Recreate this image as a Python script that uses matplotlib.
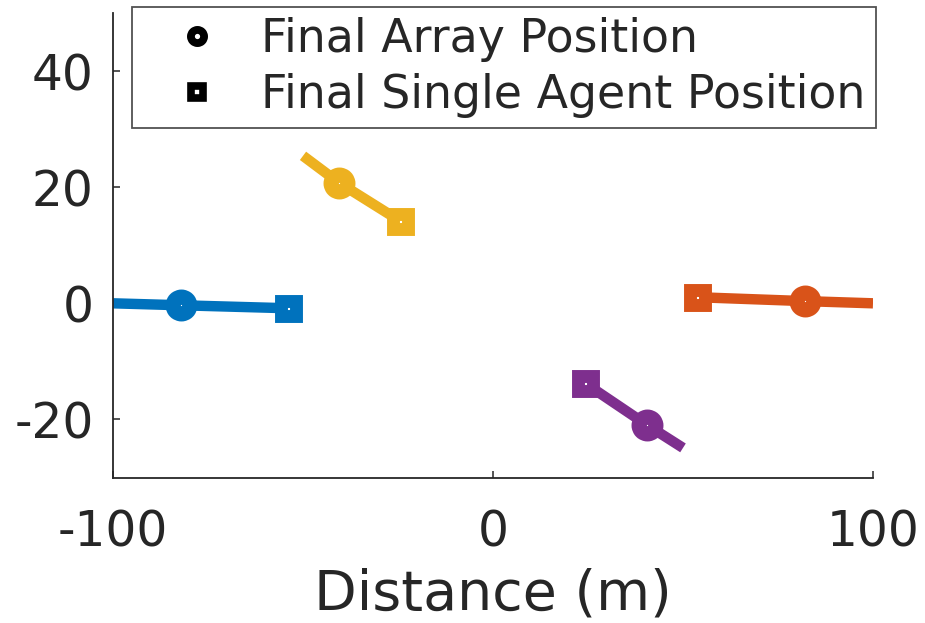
import matplotlib
matplotlib.use("Agg")
import matplotlib.pyplot as plt
from matplotlib.lines import Line2D
from matplotlib.markers import MarkerStyle

# Data: each agent's trajectory end segment, final array position (circle), final single-agent position (square)
colors = ["#0072BD", "#D95319", "#EDB120", "#7E2F8E"]
start_x = [-100.0, 100.0, -50.0, 50.0]
start_y = [0.0, 0.0, 25.4, -24.9]
array_x = [-82.0, 82.0, -40.6, 40.4]
array_y = [-0.34, 0.38, 20.8, -20.9]
single_x = [-54.0, 53.8, -24.5, 24.3]
single_y = [-0.85, 1.05, 14.2, -13.8]

xticks = [-100, 0, 100]
yticks = [-20, 0, 20, 40]
legend_labels = ["Final Array Position", "Final Single Agent Position"]
xlabel = "Distance (m)"

plt.rcParams["font.family"] = ["DejaVu Sans"]
txt = "#262626"

fig = plt.figure(figsize=(9.25, 6.23), dpi=100)
ax = fig.add_axes([113 / 925, 1 - 477.5 / 623, 760 / 925, 464.5 / 623])

sq = MarkerStyle("s", joinstyle="miter")
for c, sx, sy, ax_, ay, qx, qy in zip(colors, start_x, start_y, array_x, array_y, single_x, single_y):
    ax.plot([sx, ax_, qx], [sy, ay, qy], color=c, lw=7.5, solid_capstyle="butt", zorder=2)
    ax.plot([ax_], [ay], marker="o", ms=12.3, mew=10.7, mfc="white", mec=c, ls="none", zorder=3)
    ax.plot([qx], [qy], marker=sq, ms=10.8, mew=9.3, mfc="white", mec=c, ls="none", zorder=3)

ax.set_xlim(-100, 100)
ax.set_ylim(-30, 50)
ax.set_xticks(xticks)
ax.set_yticks(yticks)
ax.set_xticklabels([str(t) for t in xticks])
ax.set_yticklabels([str(t) for t in yticks])
for s in ["top", "right"]:
    ax.spines[s].set_visible(False)
for s in ["left", "bottom"]:
    ax.spines[s].set_color(txt)
    ax.spines[s].set_linewidth(1.3)
ax.tick_params(direction="in", length=5, width=1.1, colors=txt, labelsize=35)
ax.tick_params(axis="x", pad=22)
ax.tick_params(axis="y", pad=14)
ax.set_xlabel(xlabel, fontsize=40, color=txt, labelpad=8)

h1 = Line2D([], [], marker="o", ms=9.5, mew=5.6, mfc="white", mec="black", ls="none")
h2 = Line2D([], [], marker=sq, ms=8, mew=5.5, mfc="white", mec="black", ls="none")
leg = fig.legend([h1, h2], legend_labels, loc="upper left",
                 bbox_to_anchor=(132 / 925, 1 - 7 / 623), fontsize=33,
                 frameon=True, fancybox=False, edgecolor=txt, borderpad=0.22,
                 labelspacing=0.24, handletextpad=0.2, handlelength=2.4, borderaxespad=0)
leg.get_frame().set_linewidth(1.3)
for t in leg.get_texts():
    t.set_color(txt)

fig.savefig("out.png", dpi=100, facecolor="white")
